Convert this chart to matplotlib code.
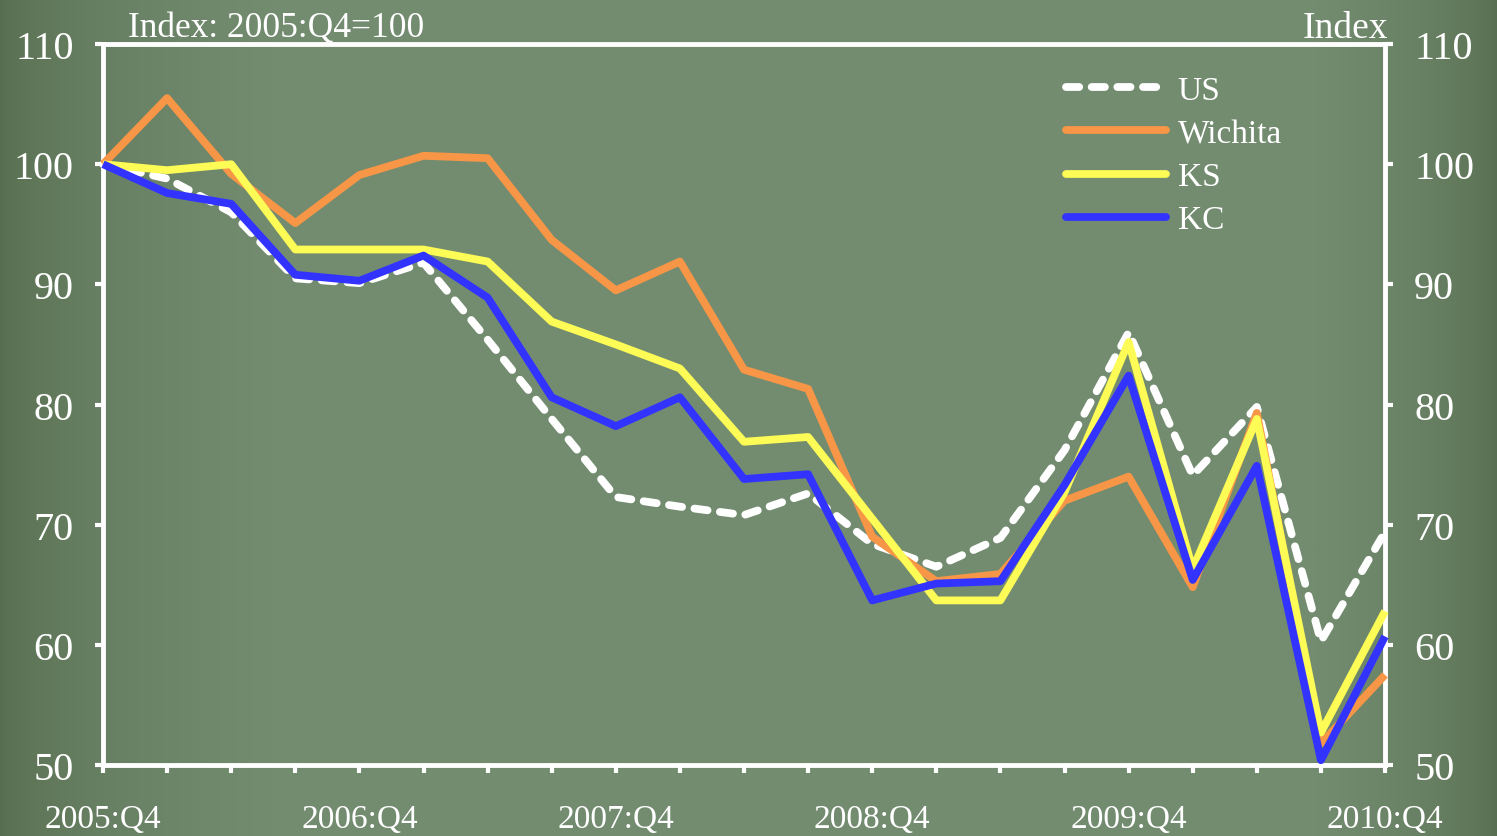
import numpy as np
import matplotlib
matplotlib.use("Agg")
import matplotlib.pyplot as plt

# ------------------------------- DATA ---------------------------------------
quarters = ['2005:Q4', '2006:Q1', '2006:Q2', '2006:Q3', '2006:Q4',
            '2007:Q1', '2007:Q2', '2007:Q3', '2007:Q4',
            '2008:Q1', '2008:Q2', '2008:Q3', '2008:Q4',
            '2009:Q1', '2009:Q2', '2009:Q3', '2009:Q4',
            '2010:Q1', '2010:Q2', '2010:Q3', '2010:Q4']
labelled = ['2005:Q4', '2006:Q4', '2007:Q4', '2008:Q4', '2009:Q4', '2010:Q4']

us      = [100, 98.8, 96.0, 90.5, 90.1, 91.8, 85.4, 78.8, 72.3, 71.5, 70.8,
           72.6, 68.4, 66.5, 68.9, 76.2, 86.0, 74.1, 79.8, 60.3, 69.4]
wichita = [100, 105.5, 99.2, 95.1, 99.1, 100.7, 100.5, 93.7, 89.5, 91.9, 82.9,
           81.3, 69.0, 65.3, 65.9, 72.0, 74.0, 64.8, 79.3, 51.8, 57.5]
ks      = [100, 99.5, 100.0, 92.9, 92.9, 92.9, 91.9, 86.9, 85.0, 83.0, 76.9,
           77.3, 70.5, 63.7, 63.7, 72.7, 85.2, 66.3, 78.8, 52.7, 62.8]
kc      = [100, 97.6, 96.7, 90.8, 90.3, 92.4, 88.9, 80.6, 78.2, 80.6, 73.8,
           74.2, 63.7, 65.1, 65.3, 73.3, 82.4, 65.4, 74.9, 50.4, 60.7]
yticks  = [50, 60, 70, 80, 90, 100, 110]

# ------------------------------- STYLE --------------------------------------
plt.rcParams['font.family'] = ['Liberation Serif', 'DejaVu Serif']
WHITE = 'white'
LW = 5.6

fig = plt.figure(figsize=(14.97, 8.37), dpi=100)

# chalkboard-ish background: darker at the left/right edges
bg = fig.add_axes([0, 0, 1, 1], zorder=-10)
xs = np.linspace(0, 1, 600)
shade = np.clip(np.minimum(xs / 0.18, (1 - xs) / 0.12), 0, 1) ** 0.6
dark, light = np.array([0x58, 0x6e, 0x50]), np.array([0x73, 0x8c, 0x70])
row = dark[None, :] + (light - dark)[None, :] * shade[:, None]
img = np.repeat(row[None, :, :], 10, axis=0) / 255.0
bg.imshow(img, aspect='auto', extent=[0, 1, 0, 1])
bg.axis('off')

ax = fig.add_axes([0.0688, 0.0848, 0.8564, 0.8614])
ax.set_facecolor('none')
x = np.arange(len(quarters))

ax.plot(x, us, color=WHITE, lw=LW, ls=(0, (1.7, 1.6)), dash_capstyle='round',
        label='US', zorder=3, clip_on=False)
ax.plot(x, wichita, color='#f79646', lw=LW, label='Wichita', zorder=4,
        clip_on=False, solid_capstyle='butt')
ax.plot(x, ks, color='#fdfb55', lw=LW, label='KS', zorder=5, clip_on=False,
        solid_capstyle='butt')
ax.plot(x, kc, color='#3333ff', lw=LW, label='KC', zorder=6, clip_on=False,
        solid_capstyle='butt')

ax.set_xlim(0, len(quarters) - 1)
ax.set_ylim(50, 110)

ax.set_xticks(x)
ax.set_xticklabels([q if q in labelled else '' for q in quarters])
ax.set_yticks(yticks)
ax.yaxis.set_ticks_position('both')
ax.tick_params(axis='y', direction='out', length=6, width=3, color=WHITE,
               labelsize=29, labelcolor=WHITE, labelright=True, pad=15)
ax.tick_params(axis='x', direction='out', length=6, width=3, color=WHITE,
               labelsize=24, labelcolor=WHITE, pad=22)

for s in ax.spines.values():
    s.set_color(WHITE)
    s.set_linewidth(3.5)

fig.text(0.0855, 0.955, 'Index: 2005:Q4=100', color=WHITE, fontsize=25.5,
         ha='left', va='baseline')
fig.text(0.9275, 0.955, 'Index', color=WHITE, fontsize=27,
         ha='right', va='baseline')

leg = ax.legend(loc='upper right', bbox_to_anchor=(0.93, 0.975), frameon=False,
                fontsize=24, handlelength=3.0, handletextpad=0.35,
                labelspacing=0.38, borderaxespad=0)
for t in leg.get_texts():
    t.set_color(WHITE)
for h in leg.get_lines():
    h.set_solid_capstyle('round')

fig.savefig('out.png', dpi=100)
